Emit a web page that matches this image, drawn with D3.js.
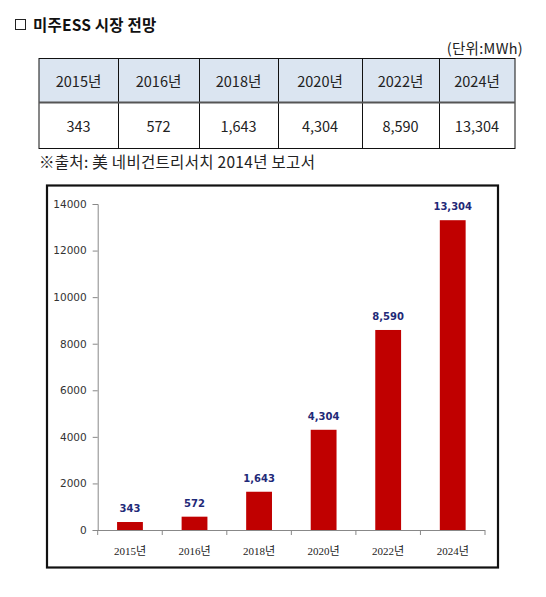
<!DOCTYPE html>
<html>
<head>
<meta charset="utf-8">
<script src="https://cdn.jsdelivr.net/npm/d3@7"></script>
<style>
  body { margin: 0; background: #fff; }
  svg { display: block; font-family: 'Noto Sans CJK KR', 'Noto Sans', sans-serif; }
</style>
</head>
<body>
<div id="chart"></div>
<script>
// data
const years = ['2015년', '2016년', '2018년', '2020년', '2022년', '2024년']
const values = [343, 572, 1643, 4304, 8590, 13304]
const yTicks = [0, 2000, 4000, 6000, 8000, 10000, 12000, 14000]

const W = 546, H = 597
const fmt = d3.format(',d')

const svg = d3.select('#chart').append('svg').attr('width', W).attr('height', H)

// title
svg.append('rect')
  .attr('x', 15.5).attr('y', 19.5).attr('width', 10).attr('height', 10)
  .attr('fill', 'none').attr('stroke', '#222').attr('stroke-width', 1)
svg.append('text')
  .attr('x', 33).attr('y', 30.5)
  .attr('font-size', 15.5).attr('font-weight', 'bold').attr('fill', '#111')
  .attr('letter-spacing', 0.2)
  .text('미주ESS 시장 전망')

svg.append('text')
  .attr('x', 523).attr('y', 53.5)
  .attr('text-anchor', 'end').attr('font-size', 14.5).attr('fill', '#222')
  .attr('letter-spacing', 0.3)
  .text('(단위:MWh)')

// table
const tbl = { left: 39, right: 515, top: 58.5, mid: 102.5, bottom: 148.5 }
const colEdges = [39, 118, 199, 278, 362, 439, 515]

const table = svg.append('g')
table.append('rect')
  .attr('x', tbl.left).attr('y', tbl.top)
  .attr('width', tbl.right - tbl.left).attr('height', tbl.mid - tbl.top)
  .attr('fill', '#dbe5f1')

table.selectAll('text.head')
  .data(years)
  .join('text')
  .attr('class', 'head')
  .attr('x', (d, i) => (colEdges[i] + colEdges[i + 1]) / 2)
  .attr('y', 87)
  .attr('text-anchor', 'middle').attr('font-size', 14.5).attr('fill', '#222')
  .text(d => d)

table.selectAll('text.val')
  .data(values)
  .join('text')
  .attr('class', 'val')
  .attr('x', (d, i) => (colEdges[i] + colEdges[i + 1]) / 2)
  .attr('y', 132)
  .attr('text-anchor', 'middle').attr('font-size', 14.5).attr('fill', '#222')
  .text(d => fmt(d))

table.append('rect')
  .attr('x', tbl.left).attr('y', tbl.top)
  .attr('width', tbl.right - tbl.left).attr('height', tbl.bottom - tbl.top)
  .attr('fill', 'none').attr('stroke', '#111').attr('stroke-width', 1)

table.selectAll('line.col')
  .data(colEdges.slice(1, -1))
  .join('line')
  .attr('class', 'col')
  .attr('x1', d => d + 0.5).attr('x2', d => d + 0.5)
  .attr('y1', tbl.top).attr('y2', tbl.bottom)
  .attr('stroke', '#111')

table.append('line')
  .attr('x1', tbl.left).attr('x2', tbl.right)
  .attr('y1', tbl.mid).attr('y2', tbl.mid)
  .attr('stroke', '#555').attr('stroke-width', 2.2)

svg.append('text')
  .attr('x', 39).attr('y', 167.5)
  .attr('font-size', 15.5).attr('fill', '#222')
  .attr('letter-spacing', 0.3)
  .text('※출처: 美 네비건트리서치 2014년 보고서')

// chart frame
svg.append('rect')
  .attr('x', 47).attr('y', 185.5)
  .attr('width', 451).attr('height', 382)
  .attr('fill', '#fff').attr('stroke', '#111').attr('stroke-width', 2.2)

const m = { left: 97.7, right: 485, top: 204, bottom: 530 }

const xb = d3.scaleBand().domain(years).range([m.left, m.right])
const y = d3.scaleLinear().domain([0, 14000]).range([m.bottom, m.top])
const barW = xb.bandwidth() * 0.4

const chart = svg.append('g')

// y axis
const yAxis = chart.append('g')
  .attr('transform', `translate(${m.left},0)`)
  .call(d3.axisLeft(y).tickValues(yTicks).tickSize(5).tickPadding(6).tickFormat(d3.format('d')))
yAxis.select('.domain').attr('stroke', '#888')
yAxis.selectAll('.tick line').attr('stroke', '#888')
yAxis.selectAll('text')
  .attr('font-family', 'Tahoma, "DejaVu Sans", sans-serif')
  .attr('font-size', 10.5).attr('fill', '#333')

// bars
chart.selectAll('rect.bar')
  .data(values)
  .join('rect')
  .attr('class', 'bar')
  .attr('x', (d, i) => xb(years[i]) + (xb.bandwidth() - barW) / 2)
  .attr('width', barW)
  .attr('y', d => y(d))
  .attr('height', d => y(0) - y(d))
  .attr('fill', '#c00000')

// value labels
chart.selectAll('text.lbl')
  .data(values)
  .join('text')
  .attr('class', 'lbl')
  .attr('x', (d, i) => xb(years[i]) + xb.bandwidth() / 2)
  .attr('y', d => y(d) - 10)
  .attr('text-anchor', 'middle')
  .attr('font-family', 'Verdana, "DejaVu Sans", sans-serif')
  .attr('font-weight', 'bold').attr('font-size', 10).attr('fill', '#1f2a78')
  .text(d => fmt(d))

// x axis
const xAxisG = chart.append('g')
xAxisG.append('line')
  .attr('x1', m.left).attr('x2', m.right)
  .attr('y1', m.bottom + 0.5).attr('y2', m.bottom + 0.5)
  .attr('stroke', '#888')
xAxisG.selectAll('line.tk')
  .data(years.map(d => xb(d)).concat([m.right]))
  .join('line')
  .attr('class', 'tk')
  .attr('x1', d => d).attr('x2', d => d)
  .attr('y1', m.bottom).attr('y2', m.bottom + 5)
  .attr('stroke', '#888')
xAxisG.selectAll('text')
  .data(years)
  .join('text')
  .attr('x', d => xb(d) + xb.bandwidth() / 2)
  .attr('y', 554.5)
  .attr('text-anchor', 'middle')
  .attr('font-family', '"Liberation Serif", "Noto Sans CJK KR", serif')
  .attr('font-size', 11).attr('fill', '#222')
  .text(d => d)
</script>
</body>
</html>
